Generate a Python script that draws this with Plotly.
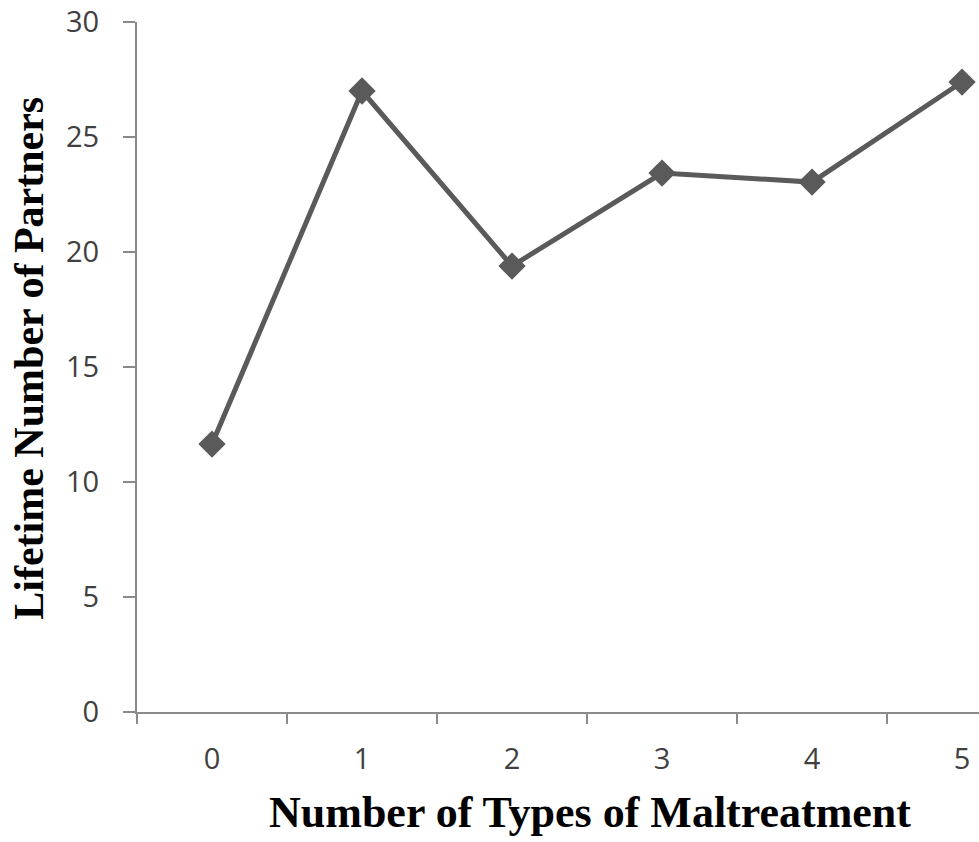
import plotly.graph_objects as go

categories = ["0", "1", "2", "3", "4", "5"]
partners = [11.65, 27.0, 19.39, 23.43, 23.04, 27.39]
y_ticks = [0, 5, 10, 15, 20, 25, 30]

fig = go.Figure()
fig.add_trace(go.Scatter(
    x=categories, y=partners, mode="lines+markers",
    line=dict(color="#5a5a5a", width=5),
    marker=dict(symbol="diamond", size=21, color="#5a5a5a"),
    showlegend=False, cliponaxis=False,
))

axis_col = "#8a8a8a"
tick_font = dict(family="Open Sans", size=29, color="#404040")

fig.update_layout(
    width=979, height=842,
    margin=dict(l=137, r=0, t=22, b=130, autoexpand=False),
    paper_bgcolor="white", plot_bgcolor="white",
    xaxis=dict(
        type="category", range=[-0.5, 5.113], tickson="boundaries",
        ticks="outside", ticklen=10, tickcolor=axis_col, tickwidth=2,
        showline=True, linecolor=axis_col, linewidth=2,
        showgrid=False, zeroline=False, ticklabelstandoff=20,
        ticklabeloverflow="allow", tickfont=tick_font, automargin=False,
    ),
    yaxis=dict(
        range=[0, 30], tickvals=y_ticks,
        ticks="outside", ticklen=12, tickcolor=axis_col, tickwidth=2,
        showline=True, linecolor=axis_col, linewidth=2,
        showgrid=False, zeroline=False, ticklabelstandoff=18,
        ticklabeloverflow="allow", tickfont=tick_font, automargin=False,
    ),
    annotations=[
        dict(text="<b>Number of Types of Maltreatment</b>", xref="paper", yref="paper",
             x=0.538, y=-0.145, xanchor="center", yanchor="middle", showarrow=False,
             font=dict(family="Liberation Serif", size=44, color="black")),
        dict(text="<b>Lifetime Number of Partners</b>", xref="paper", yref="paper",
             x=-0.128, y=0.513, xanchor="center", yanchor="middle", showarrow=False,
             textangle=-90, height=38, width=540,
             font=dict(family="Liberation Serif", size=42, color="black")),
    ],
)

fig.write_html(
    "out.html",
    config={"displayModeBar": False},
    post_script="document.body.style.margin='0';document.body.style.overflow='hidden';",
)
